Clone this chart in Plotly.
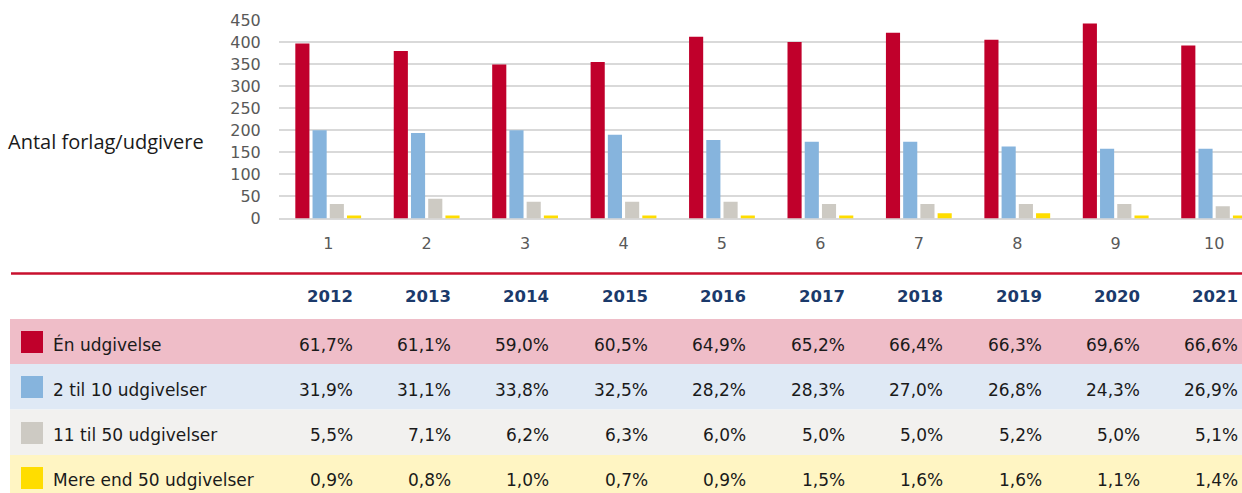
import plotly.graph_objects as go

# ---------------- data ----------------
categories = [1, 2, 3, 4, 5, 6, 7, 8, 9, 10]
tick_labels = ["1", "2", "3", "4", "5", "6", "7", "8", "9", "10"]
years = ["2012", "2013", "2014", "2015", "2016", "2017", "2018", "2019", "2020", "2021"]

series_names = ["Én udgivelse", "2 til 10 udgivelser", "11 til 50 udgivelser", "Mere end 50 udgivelser"]
en_udgivelse = [397, 380, 349, 355, 412, 400, 421, 405, 442, 392]
to_til_ti = [200, 194, 200, 190, 178, 174, 174, 163, 158, 158]
elleve_til_halvtreds = [33, 45, 38, 38, 38, 33, 33, 33, 33, 28]
mere_end_halvtreds = [7, 7, 7, 7, 7, 7, 12, 12, 7, 7]

pct_en = ["61,7%", "61,1%", "59,0%", "60,5%", "64,9%", "65,2%", "66,4%", "66,3%", "69,6%", "66,6%"]
pct_to = ["31,9%", "31,1%", "33,8%", "32,5%", "28,2%", "28,3%", "27,0%", "26,8%", "24,3%", "26,9%"]
pct_elleve = ["5,5%", "7,1%", "6,2%", "6,3%", "6,0%", "5,0%", "5,0%", "5,2%", "5,0%", "5,1%"]
pct_mere = ["0,9%", "0,8%", "1,0%", "0,7%", "0,9%", "1,5%", "1,6%", "1,6%", "1,1%", "1,4%"]

y_ticks = [0, 50, 100, 150, 200, 250, 300, 350, 400, 450]

# ---------------- styles ----------------
W, H = 1242, 493
bar_colors = ["#c0002b", "#86b4dd", "#cdcac3", "#ffdd00"]
row_colors = ["#efbdc8", "#dfe9f5", "#f2f1ef", "#fff5c3"]
FONT = "DejaVu Sans"
TITLE_FONT = "Open Sans"

def px(x):
    return x / W

def py(y):
    return 1 - y / H

fig = go.Figure()
for name, vals, col in zip(series_names,
                           [en_udgivelse, to_til_ti, elleve_til_halvtreds, mere_end_halvtreds],
                           bar_colors):
    fig.add_trace(go.Bar(x=categories, y=vals, name=name, marker_color=col,
                         marker_line_width=0))

shapes = []
annotations = []

# red separator line
shapes.append(dict(type="line", xref="paper", yref="paper", x0=px(11), x1=1,
                   y0=py(273.5), y1=py(273.5), line=dict(color="#c8102e", width=2.5)))

row_bounds = [(319, 364), (364, 409.5), (409.5, 455), (455, 496)]
square_tops = [331, 376, 422, 467]
text_y = [344.5, 389.5, 435, 479.5]
pct_rows = [pct_en, pct_to, pct_elleve, pct_mere]

for i in range(4):
    y0, y1 = row_bounds[i]
    shapes.append(dict(type="rect", xref="paper", yref="paper", x0=px(10), x1=1,
                       y0=py(y1), y1=py(y0), fillcolor=row_colors[i], line_width=0,
                       layer="below"))
    st = square_tops[i]
    shapes.append(dict(type="rect", xref="paper", yref="paper", x0=px(21), x1=px(43),
                       y0=py(st + 22), y1=py(st), fillcolor=bar_colors[i], line_width=0))
    annotations.append(dict(text=series_names[i], xref="paper", yref="paper", x=px(51),
                            y=py(text_y[i]), xanchor="left", yanchor="middle",
                            showarrow=False, font=dict(family=FONT, size=17, color="#1a1a1a")))
    for c, val in zip(categories, pct_rows[i]):
        annotations.append(dict(text=val, xref="x", yref="paper", x=c + 0.267,
                                y=py(text_y[i]), xanchor="right", yanchor="middle",
                                showarrow=False, font=dict(family=FONT, size=17, color="#1a1a1a")))

for c, yr in zip(categories, years):
    annotations.append(dict(text="<b>" + yr + "</b>", xref="x", yref="paper", x=c + 0.267,
                            y=py(296), xanchor="right", yanchor="middle", showarrow=False,
                            font=dict(family=FONT, size=16.5, color="#1b3a6b")))

annotations.append(dict(text="Antal forlag/udgivere", xref="paper", yref="paper", x=px(6),
                        y=py(141), xanchor="left", yanchor="middle", showarrow=False,
                        font=dict(family=TITLE_FONT, size=20, color="#1a1a1a")))

fig.update_layout(
    width=W, height=H,
    margin=dict(l=0, r=0, t=0, b=0),
    paper_bgcolor="white", plot_bgcolor="white",
    barmode="group", bargap=0.30, bargroupgap=0.18,
    showlegend=False, hovermode=False,
    shapes=shapes, annotations=annotations,
    xaxis=dict(domain=[px(279), 1], range=[0.5, 10.283], tickmode="array",
               tickvals=categories, ticktext=tick_labels, showgrid=False, zeroline=False,
               showline=False, ticks="outside", ticklen=10, tickcolor="rgba(0,0,0,0)",
               tickfont=dict(family=FONT, size=16, color="#595959"), automargin=False,
               fixedrange=True),
    yaxis=dict(domain=[py(218.5), py(20)], range=[0, 450], tickmode="array",
               tickvals=y_ticks, showgrid=True, gridcolor="#d9d9d9", gridwidth=1.5,
               zeroline=True, zerolinecolor="#d9d9d9", zerolinewidth=2,
               ticks="outside", ticklen=14, tickcolor="rgba(0,0,0,0)",
               tickfont=dict(family=FONT, size=16, color="#595959"), automargin=False,
               fixedrange=True),
)

fig.write_html("out.html", config={"displayModeBar": False},
               post_script="document.body.style.margin='0';document.body.style.overflow='hidden';")
